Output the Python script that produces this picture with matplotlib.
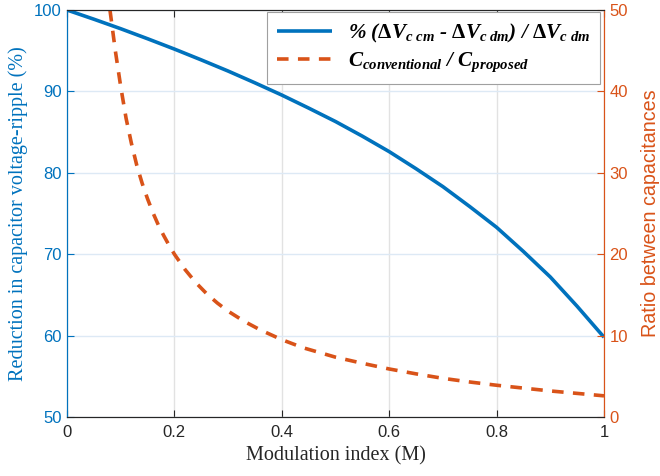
import matplotlib
matplotlib.use("Agg")
import matplotlib.pyplot as plt

# values
m_ripple = [0.0, 0.05, 0.1, 0.15, 0.2, 0.25, 0.3, 0.35, 0.4, 0.45, 0.5,
            0.55, 0.6, 0.65, 0.7, 0.75, 0.8, 0.85, 0.9, 0.95, 1.0]
ripple_reduction = [100.0, 98.87, 97.7, 96.47, 95.2, 93.87, 92.5, 91.05,
                    89.55, 87.95, 86.3, 84.5, 82.6, 80.5, 78.3, 75.85, 73.3,
                    70.33, 67.2, 63.6, 59.8]

m_ratio = [0.08, 0.09, 0.1, 0.11, 0.12, 0.13, 0.14, 0.15, 0.16, 0.17, 0.18,
           0.19, 0.2, 0.22, 0.24, 0.26, 0.28, 0.3, 0.33, 0.36, 0.4, 0.44,
           0.5, 0.55, 0.6, 0.65, 0.7, 0.75, 0.8, 0.85, 0.9, 0.95, 1.0]
cap_ratio = [50.0, 45.0, 40.6, 36.7, 33.6, 30.9, 28.7, 26.8, 25.1, 23.6,
             22.3, 21.1, 20.0, 18.1, 16.5, 15.15, 14.0, 13.0, 11.75, 10.7,
             9.5, 8.5, 7.35, 6.6, 5.9, 5.3, 4.75, 4.3, 3.9, 3.55, 3.2, 2.9,
             2.6]

x_ticks = [0, 0.2, 0.4, 0.6, 0.8, 1]
x_ticklabels = ["0", "0.2", "0.4", "0.6", "0.8", "1"]
left_ticks = [50, 60, 70, 80, 90, 100]
right_ticks = [0, 10, 20, 30, 40, 50]

label_1 = r"% ($\Delta V_{c\ cm}$ - $\Delta V_{c\ dm}$) / $\Delta V_{c\ dm}$"
label_2 = r"$C_{conventional}$ / $C_{proposed}$"

blue = "#0072BD"
orange = "#D95319"

plt.rcParams["font.family"] = ["Liberation Sans", "DejaVu Sans"]
plt.rcParams["mathtext.fontset"] = "custom"
plt.rcParams["mathtext.rm"] = "Liberation Serif:bold"
plt.rcParams["mathtext.it"] = "Liberation Serif:italic:bold"
plt.rcParams["mathtext.bf"] = "Liberation Serif:bold"

fig = plt.figure(figsize=(6.6, 4.76), dpi=100)
ax = fig.add_axes([67 / 660, 59 / 476, 537 / 660, 407 / 476])
ax2 = ax.twinx()

ax.set_xlim(0, 1)
ax.set_ylim(50, 100)
ax2.set_ylim(0, 50)

ax.set_xticks(x_ticks)
ax.set_xticklabels(x_ticklabels)
ax.set_yticks(left_ticks)
ax2.set_yticks(right_ticks)

ax.xaxis.grid(True, color="#e2e2e2", lw=1.0)
ax.yaxis.grid(True, color="#dde9f5", lw=1.0)
ax.set_axisbelow(True)

h1, = ax.plot(m_ripple, ripple_reduction, color=blue, lw=2.6,
              solid_capstyle="butt")
h2, = ax2.plot(m_ratio, cap_ratio, color=orange, lw=2.6,
               dashes=(3.2, 2.6))

ax.tick_params(axis="x", direction="in", length=5, top=True, labelsize=12,
               colors="#262626", pad=6)
ax.tick_params(axis="y", direction="in", length=5, labelsize=12,
               colors=blue, pad=4)
ax2.tick_params(axis="y", direction="in", length=5, labelsize=12,
                colors=orange, pad=4)

for a in (ax, ax2):
    a.spines["top"].set_color("#262626")
    a.spines["bottom"].set_color("#262626")
    a.spines["left"].set_color(blue)
    a.spines["right"].set_color(orange)

ax.set_xlabel("Modulation index (M)", fontsize=14.5, family="Liberation Serif",
              color="#262626", labelpad=4)
ax.set_ylabel("Reduction in capacitor voltage-ripple (%)", fontsize=14.5,
              family="Liberation Serif", color=blue, labelpad=4)
ax2.set_ylabel("Ratio between capacitances", fontsize=14.2, color=orange,
               labelpad=9)

leg = ax2.legend([h1, h2], [label_1, label_2], loc="upper right",
                 bbox_to_anchor=(0.993, 0.995), fancybox=False,
                 edgecolor="#a0a0a0", framealpha=1, handlelength=2.6,
                 borderaxespad=0, labelspacing=0.3, borderpad=0.45,
                 prop={"family": "Liberation Serif", "weight": "bold",
                       "style": "italic", "size": 15.2})
leg.get_frame().set_linewidth(0.8)

fig.savefig("out.png", dpi=100)
